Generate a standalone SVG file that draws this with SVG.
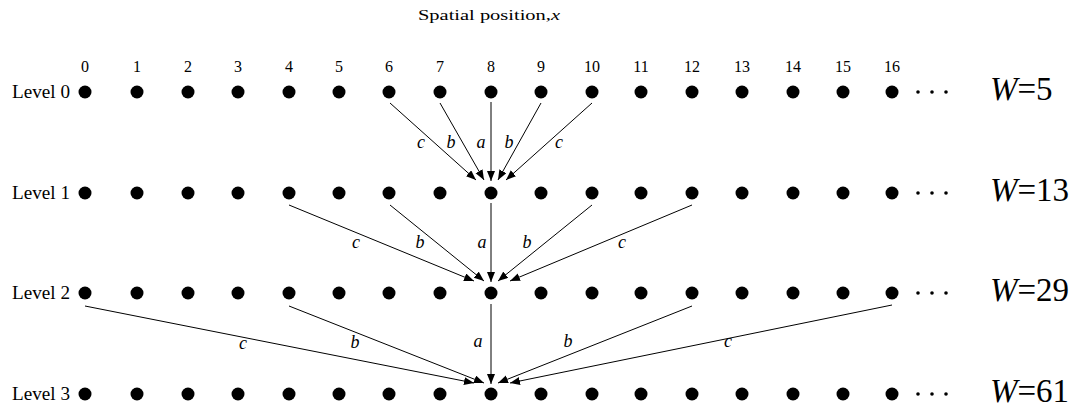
<svg xmlns="http://www.w3.org/2000/svg" width="1077" height="411" viewBox="0 0 1077 411">
<style>
text{font-family:'Liberation Serif','Times New Roman',serif;fill:#000}
.num{font-size:16px;text-anchor:middle}
.lvl{font-size:18px}
.lab{font-size:18px;font-style:italic;text-anchor:middle}
.w{font-size:33px}
.dot{fill:#000}
.ell{fill:#000}
.edge{stroke:#000;stroke-width:1;fill:none;marker-end:url(#ah)}
</style>
<defs>
<marker id="ah" markerUnits="userSpaceOnUse" markerWidth="11" markerHeight="9" refX="10" refY="4" orient="auto">
<path d="M0,0 L10,4 L0,8 z" fill="#000"/>
</marker>
</defs>
<rect width="1077" height="411" fill="#fff"/>
<g font-family="Liberation Serif, Times New Roman, serif">
<text x="418" y="20" font-size="15" textLength="142" lengthAdjust="spacingAndGlyphs">Spatial position,<tspan font-style="italic">x</tspan></text>
<g id="axis-numbers">
<text class="num" x="85" y="72">0</text><text class="num" x="137" y="72">1</text><text class="num" x="188" y="72">2</text><text class="num" x="238" y="72">3</text><text class="num" x="289" y="72">4</text><text class="num" x="339" y="72">5</text><text class="num" x="389" y="72">6</text><text class="num" x="440" y="72">7</text><text class="num" x="491" y="72">8</text><text class="num" x="541" y="72">9</text><text class="num" x="592" y="72">10</text><text class="num" x="641" y="72">11</text><text class="num" x="692" y="72">12</text><text class="num" x="742" y="72">13</text><text class="num" x="793" y="72">14</text><text class="num" x="843" y="72">15</text><text class="num" x="892" y="72">16</text>
</g>
<g id="level-labels">
<text class="lvl" x="12" y="98" textLength="58" lengthAdjust="spacingAndGlyphs">Level 0</text>
<text class="lvl" x="12" y="199" textLength="58" lengthAdjust="spacingAndGlyphs">Level 1</text>
<text class="lvl" x="12" y="299" textLength="58" lengthAdjust="spacingAndGlyphs">Level 2</text>
<text class="lvl" x="12" y="400" textLength="58" lengthAdjust="spacingAndGlyphs">Level 3</text>
</g>
<g id="width-labels">
<text class="w" x="990" y="100"><tspan font-style="italic">W</tspan>=5</text>
<text class="w" x="990" y="201"><tspan font-style="italic">W</tspan>=13</text>
<text class="w" x="990" y="301"><tspan font-style="italic">W</tspan>=29</text>
<text class="w" x="990" y="402"><tspan font-style="italic">W</tspan>=61</text>
</g>
</g>
<g id="ellipses">
<circle class="ell" cx="918" cy="92" r="1.8"/><circle class="ell" cx="932" cy="92" r="1.8"/><circle class="ell" cx="946" cy="92" r="1.8"/>
<circle class="ell" cx="918" cy="193" r="1.8"/><circle class="ell" cx="932" cy="193" r="1.8"/><circle class="ell" cx="946" cy="193" r="1.8"/>
<circle class="ell" cx="918" cy="293" r="1.8"/><circle class="ell" cx="932" cy="293" r="1.8"/><circle class="ell" cx="946" cy="293" r="1.8"/>
<circle class="ell" cx="918" cy="394" r="1.8"/><circle class="ell" cx="932" cy="394" r="1.8"/><circle class="ell" cx="946" cy="394" r="1.8"/>
</g>
<g id="level0">
<g id="n0-0"><circle class="dot" cx="85" cy="92" r="6.5"/></g><g id="n0-1"><circle class="dot" cx="137" cy="92" r="6.5"/></g><g id="n0-2"><circle class="dot" cx="188" cy="92" r="6.5"/></g><g id="n0-3"><circle class="dot" cx="238" cy="92" r="6.5"/></g><g id="n0-4"><circle class="dot" cx="289" cy="92" r="6.5"/></g><g id="n0-5"><circle class="dot" cx="339" cy="92" r="6.5"/></g><g id="n0-6"><circle class="dot" cx="389" cy="92" r="6.5"/></g><g id="n0-7"><circle class="dot" cx="440" cy="92" r="6.5"/></g><g id="n0-8"><circle class="dot" cx="491" cy="92" r="6.5"/></g><g id="n0-9"><circle class="dot" cx="541" cy="92" r="6.5"/></g><g id="n0-10"><circle class="dot" cx="592" cy="92" r="6.5"/></g><g id="n0-11"><circle class="dot" cx="641" cy="92" r="6.5"/></g><g id="n0-12"><circle class="dot" cx="692" cy="92" r="6.5"/></g><g id="n0-13"><circle class="dot" cx="742" cy="92" r="6.5"/></g><g id="n0-14"><circle class="dot" cx="793" cy="92" r="6.5"/></g><g id="n0-15"><circle class="dot" cx="843" cy="92" r="6.5"/></g><g id="n0-16"><circle class="dot" cx="892" cy="92" r="6.5"/></g>
</g>
<g id="level1">
<g id="n1-0"><circle class="dot" cx="85" cy="193" r="6.5"/></g><g id="n1-1"><circle class="dot" cx="137" cy="193" r="6.5"/></g><g id="n1-2"><circle class="dot" cx="188" cy="193" r="6.5"/></g><g id="n1-3"><circle class="dot" cx="238" cy="193" r="6.5"/></g><g id="n1-4"><circle class="dot" cx="289" cy="193" r="6.5"/></g><g id="n1-5"><circle class="dot" cx="339" cy="193" r="6.5"/></g><g id="n1-6"><circle class="dot" cx="389" cy="193" r="6.5"/></g><g id="n1-7"><circle class="dot" cx="440" cy="193" r="6.5"/></g><g id="n1-8"><circle class="dot" cx="491" cy="193" r="6.5"/></g><g id="n1-9"><circle class="dot" cx="541" cy="193" r="6.5"/></g><g id="n1-10"><circle class="dot" cx="592" cy="193" r="6.5"/></g><g id="n1-11"><circle class="dot" cx="641" cy="193" r="6.5"/></g><g id="n1-12"><circle class="dot" cx="692" cy="193" r="6.5"/></g><g id="n1-13"><circle class="dot" cx="742" cy="193" r="6.5"/></g><g id="n1-14"><circle class="dot" cx="793" cy="193" r="6.5"/></g><g id="n1-15"><circle class="dot" cx="843" cy="193" r="6.5"/></g><g id="n1-16"><circle class="dot" cx="892" cy="193" r="6.5"/></g>
</g>
<g id="level2">
<g id="n2-0"><circle class="dot" cx="85" cy="293" r="6.5"/></g><g id="n2-1"><circle class="dot" cx="137" cy="293" r="6.5"/></g><g id="n2-2"><circle class="dot" cx="188" cy="293" r="6.5"/></g><g id="n2-3"><circle class="dot" cx="238" cy="293" r="6.5"/></g><g id="n2-4"><circle class="dot" cx="289" cy="293" r="6.5"/></g><g id="n2-5"><circle class="dot" cx="339" cy="293" r="6.5"/></g><g id="n2-6"><circle class="dot" cx="389" cy="293" r="6.5"/></g><g id="n2-7"><circle class="dot" cx="440" cy="293" r="6.5"/></g><g id="n2-8"><circle class="dot" cx="491" cy="293" r="6.5"/></g><g id="n2-9"><circle class="dot" cx="541" cy="293" r="6.5"/></g><g id="n2-10"><circle class="dot" cx="592" cy="293" r="6.5"/></g><g id="n2-11"><circle class="dot" cx="641" cy="293" r="6.5"/></g><g id="n2-12"><circle class="dot" cx="692" cy="293" r="6.5"/></g><g id="n2-13"><circle class="dot" cx="742" cy="293" r="6.5"/></g><g id="n2-14"><circle class="dot" cx="793" cy="293" r="6.5"/></g><g id="n2-15"><circle class="dot" cx="843" cy="293" r="6.5"/></g><g id="n2-16"><circle class="dot" cx="892" cy="293" r="6.5"/></g>
</g>
<g id="level3">
<g id="n3-0"><circle class="dot" cx="85" cy="394" r="6.5"/></g><g id="n3-1"><circle class="dot" cx="137" cy="394" r="6.5"/></g><g id="n3-2"><circle class="dot" cx="188" cy="394" r="6.5"/></g><g id="n3-3"><circle class="dot" cx="238" cy="394" r="6.5"/></g><g id="n3-4"><circle class="dot" cx="289" cy="394" r="6.5"/></g><g id="n3-5"><circle class="dot" cx="339" cy="394" r="6.5"/></g><g id="n3-6"><circle class="dot" cx="389" cy="394" r="6.5"/></g><g id="n3-7"><circle class="dot" cx="440" cy="394" r="6.5"/></g><g id="n3-8"><circle class="dot" cx="491" cy="394" r="6.5"/></g><g id="n3-9"><circle class="dot" cx="541" cy="394" r="6.5"/></g><g id="n3-10"><circle class="dot" cx="592" cy="394" r="6.5"/></g><g id="n3-11"><circle class="dot" cx="641" cy="394" r="6.5"/></g><g id="n3-12"><circle class="dot" cx="692" cy="394" r="6.5"/></g><g id="n3-13"><circle class="dot" cx="742" cy="394" r="6.5"/></g><g id="n3-14"><circle class="dot" cx="793" cy="394" r="6.5"/></g><g id="n3-15"><circle class="dot" cx="843" cy="394" r="6.5"/></g><g id="n3-16"><circle class="dot" cx="892" cy="394" r="6.5"/></g>
</g>
<g id="connectors">
<line class="edge" x1="390" y1="103" x2="476" y2="180"/>
<line class="edge" x1="440" y1="103" x2="484" y2="180"/>
<line class="edge" x1="491" y1="102" x2="491" y2="181"/>
<line class="edge" x1="541" y1="103" x2="498" y2="180"/>
<line class="edge" x1="592" y1="103" x2="506" y2="180"/>
<line class="edge" x1="289" y1="205" x2="474" y2="281"/>
<line class="edge" x1="390" y1="205" x2="484" y2="281"/>
<line class="edge" x1="491" y1="203" x2="491" y2="282"/>
<line class="edge" x1="592" y1="205" x2="498" y2="281"/>
<line class="edge" x1="692" y1="205" x2="510" y2="281"/>
<line class="edge" x1="85" y1="306" x2="474" y2="383"/>
<line class="edge" x1="289" y1="306" x2="484" y2="383"/>
<line class="edge" x1="491" y1="304" x2="491" y2="384"/>
<line class="edge" x1="692" y1="306" x2="498" y2="383"/>
<line class="edge" x1="892" y1="305" x2="510" y2="383"/>
</g>
<g id="edge-labels" font-family="Liberation Serif, Times New Roman, serif">
<text class="lab" x="421" y="148">c</text><text class="lab" x="451" y="148">b</text><text class="lab" x="481" y="148">a</text><text class="lab" x="509" y="148">b</text><text class="lab" x="559" y="148">c</text>
<text class="lab" x="356" y="248">c</text><text class="lab" x="420" y="248">b</text><text class="lab" x="482" y="248">a</text><text class="lab" x="527" y="248">b</text><text class="lab" x="622" y="248">c</text>
<text class="lab" x="243" y="349">c</text><text class="lab" x="355" y="348">b</text><text class="lab" x="478" y="347">a</text><text class="lab" x="568" y="347">b</text><text class="lab" x="728" y="347">c</text>
</g>
</svg>
